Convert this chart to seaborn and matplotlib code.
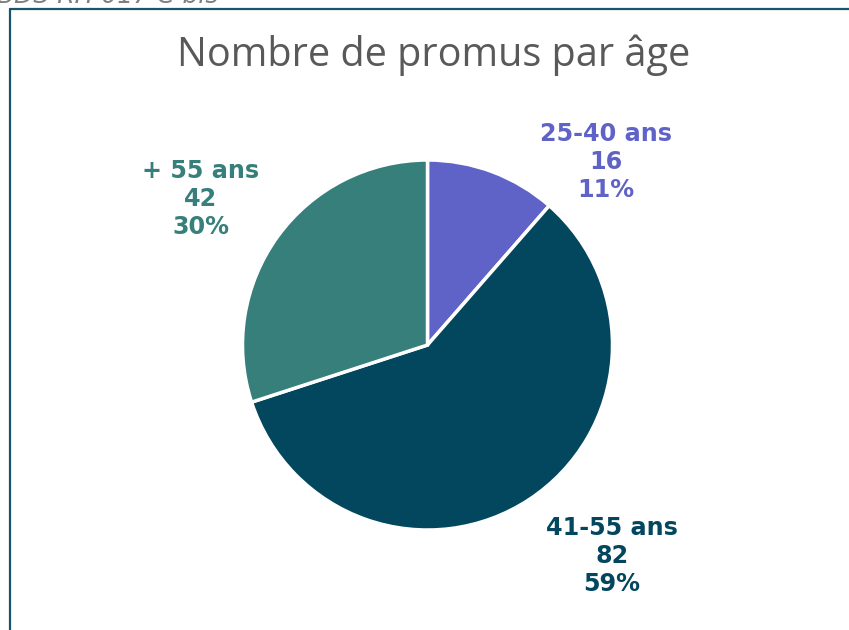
import matplotlib
matplotlib.use("Agg")
import matplotlib.pyplot as plt
import seaborn as sns
from matplotlib.lines import Line2D

categories = ["25-40 ans", "41-55 ans", "+ 55 ans"]
counts = [16, 82, 42]
percents = ["11%", "59%", "30%"]
colors = ["#5F63C8", "#03475F", "#367F7A"]
title = "Nombre de promus par âge"
header = "BDS RH 017 C bis"

sns.set_theme(style="white")
plt.rcParams['font.family'] = ['DejaVu Sans']

W, H = 849, 630
fig = plt.figure(figsize=(W / 100, H / 100), dpi=100)
fig.patch.set_facecolor("white")

cx, cy, r = 427.5, 345, 185
ax = fig.add_axes([(cx - r) / W, (H - cy - r) / H, 2 * r / W, 2 * r / H])
palette = sns.color_palette(colors)
ax.pie(counts, colors=palette, startangle=90, counterclock=False,
       wedgeprops=dict(edgecolor="white", linewidth=2.5), radius=1)
ax.set_xlim(-1, 1)
ax.set_ylim(-1, 1)
ax.set_aspect("equal")
ax.axis("off")

label_pos = [(606, 162), (612, 556), (201, 199)]
for (lx, ly), cat, n, p, c in zip(label_pos, categories, counts, percents, colors):
    fig.text(lx / W, 1 - ly / H, f"{cat}\n{n}\n{p}", ha="center", va="center",
             color=c, fontsize=17.2, fontweight="bold", linespacing=1.2,
             family="DejaVu Sans")

fig.text(434 / W, 1 - 55 / H, title, ha="center", va="center",
         fontsize=28.5, color="#595959", family="Open Sans")

fig.text(-3 / W, 1 - 3 / H, header, ha="left", va="baseline",
         fontsize=18, color="#7F7F7F", style="italic", family="DejaVu Sans")

border = "#1B5468"
fig.add_artist(Line2D([10 / W, 10 / W], [0, 1 - 9 / H], transform=fig.transFigure,
                      color=border, linewidth=1.6))
fig.add_artist(Line2D([10 / W, 1], [1 - 9 / H, 1 - 9 / H], transform=fig.transFigure,
                      color=border, linewidth=1.6))

fig.savefig("out.png", dpi=100)
